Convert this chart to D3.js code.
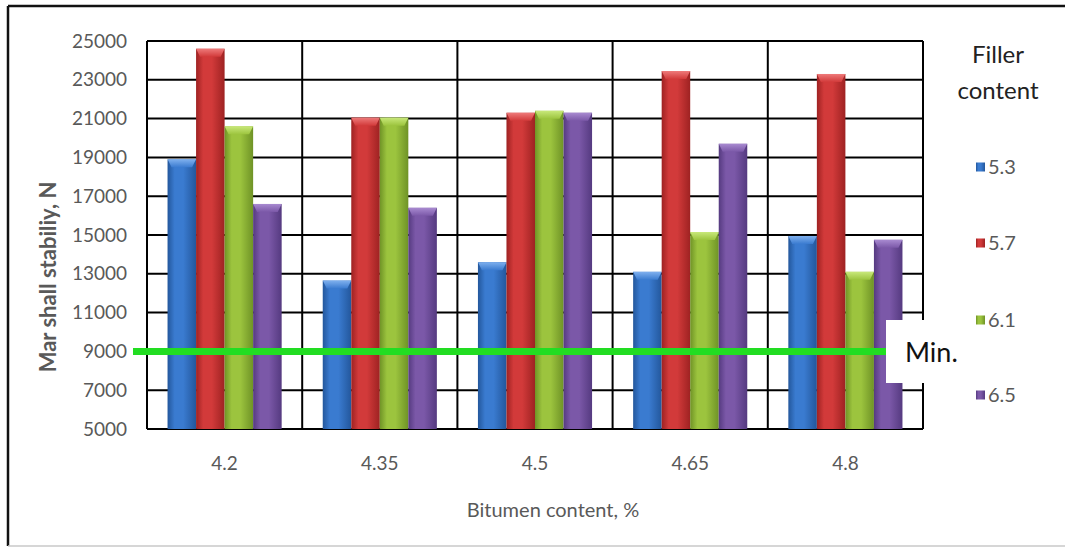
<!DOCTYPE html>
<html>
<head>
<meta charset="utf-8">
<script src="https://cdn.jsdelivr.net/npm/d3@7"></script>
<style>
  html, body { margin: 0; padding: 0; background: #fff; }
  svg { display: block; }
  text { font-family: Lato, "Open Sans", sans-serif; }
</style>
</head>
<body>
<svg id="chart" width="1065" height="547"></svg>
<script>
// Bitumen content categories (x axis)
const categories = ["4.2", "4.35", "4.5", "4.65", "4.8"];
// Filler content series
const seriesNames = ["5.3", "5.7", "6.1", "6.5"];
// Marshall stability (N) per series, one value per bitumen content
const filler53 = [18900, 12650, 13600, 13100, 14950];
const filler57 = [24600, 21050, 21300, 23450, 23300];
const filler61 = [20600, 21050, 21400, 15150, 13100];
const filler65 = [16600, 16400, 21300, 19700, 14750];
const seriesValues = [filler53, filler57, filler61, filler65];
// Axis ticks and the minimum requirement
const yTicks = [5000, 7000, 9000, 11000, 13000, 15000, 17000, 19000, 21000, 23000, 25000];
const minStability = 9000;

const colors = ["#3a7bd0", "#d23a3a", "#9cc43e", "#7b58a8"];
const darkColors = ["#23579c", "#9e2222", "#6f9326", "#553a80"];
const lightColors = ["#7fb0ee", "#ee7a7a", "#c8e87a", "#a88ad0"];

const svg = d3.select("#chart");
const W = 1065, H = 547;

// Outer frame
svg.append("line").attr("x1", 8).attr("x2", W).attr("y1", 6).attr("y2", 6)
  .attr("stroke", "#111").attr("stroke-width", 2.5);
svg.append("line").attr("x1", 8).attr("x2", 8).attr("y1", 6).attr("y2", 546)
  .attr("stroke", "#111").attr("stroke-width", 2.5);
svg.append("line").attr("x1", 8).attr("x2", W).attr("y1", 546).attr("y2", 546)
  .attr("stroke", "#c8c8c8").attr("stroke-width", 1.5);

const plot = { left: 147, right: 923, top: 41, bottom: 429 };

const x = d3.scaleBand().domain(categories).range([plot.left, plot.right]).padding(0);
const xs = d3.scaleBand().domain(seriesNames).range([0, x.bandwidth()])
  .paddingInner(0).paddingOuter(0.72);
const y = d3.scaleLinear().domain([5000, 25000]).range([plot.bottom, plot.top]);

// Gradients for the bevelled bar look
const defs = svg.append("defs");
seriesNames.forEach((s, i) => {
  const g = defs.append("linearGradient").attr("id", "bar" + i)
    .attr("x1", "0%").attr("x2", "100%").attr("y1", "0%").attr("y2", "0%");
  g.append("stop").attr("offset", "0%").attr("stop-color", darkColors[i]);
  g.append("stop").attr("offset", "25%").attr("stop-color", colors[i]);
  g.append("stop").attr("offset", "55%").attr("stop-color", colors[i]);
  g.append("stop").attr("offset", "100%").attr("stop-color", darkColors[i]);
  const c = defs.append("linearGradient").attr("id", "cap" + i)
    .attr("x1", "0%").attr("x2", "0%").attr("y1", "0%").attr("y2", "100%");
  c.append("stop").attr("offset", "0%").attr("stop-color", lightColors[i]);
  c.append("stop").attr("offset", "100%").attr("stop-color", colors[i]);
});

// Grid: horizontal lines at ticks
const grid = svg.append("g");
grid.selectAll("line.h").data(yTicks).join("line")
  .attr("x1", plot.left).attr("x2", plot.right)
  .attr("y1", d => y(d)).attr("y2", d => y(d))
  .attr("stroke", "#000").attr("stroke-width", 2);
// Vertical lines at category boundaries
const bounds = categories.map(c => x(c)).concat([plot.right]);
grid.selectAll("line.v").data(bounds).join("line")
  .attr("x1", d => d).attr("x2", d => d)
  .attr("y1", plot.top).attr("y2", plot.bottom)
  .attr("stroke", "#000").attr("stroke-width", 2);

// Bars
const rows = [];
categories.forEach((c, ci) => {
  seriesNames.forEach((s, si) => rows.push({ c, s, si, v: seriesValues[si][ci] }));
});
const bars = svg.append("g").selectAll("g").data(rows).join("g");
bars.append("rect")
  .attr("x", d => x(d.c) + xs(d.s))
  .attr("y", d => y(d.v))
  .attr("width", xs.bandwidth())
  .attr("height", d => y(5000) - y(d.v))
  .attr("fill", d => "url(#bar" + d.si + ")");
bars.append("path")
  .attr("d", d => {
    const x0 = x(d.c) + xs(d.s), x1 = x0 + xs.bandwidth(), t = y(d.v);
    return `M${x0},${t}L${x1},${t}L${x1 - 4},${t + 8}L${x0 + 4},${t + 8}Z`;
  })
  .attr("fill", d => "url(#cap" + d.si + ")");

// Minimum requirement line
svg.append("line")
  .attr("x1", 133).attr("x2", 886)
  .attr("y1", y(minStability)).attr("y2", y(minStability))
  .attr("stroke", "#22dd22").attr("stroke-width", 7);
svg.append("rect").attr("x", 886).attr("y", 320).attr("width", 80).attr("height", 63)
  .attr("fill", "#fff");
svg.append("text").attr("x", 905).attr("y", y(minStability) + 11)
  .attr("font-size", 27).attr("fill", "#111").text("Min.");

// Y axis tick labels
svg.append("g").selectAll("text").data(yTicks).join("text")
  .attr("x", 127).attr("y", d => y(d)).attr("dy", "0.35em")
  .attr("text-anchor", "end").attr("font-size", 19).attr("fill", "#595959")
  .text(d => d);

// X axis tick labels
svg.append("g").selectAll("text").data(categories).join("text")
  .attr("x", d => x(d) + x.bandwidth() / 2).attr("y", 463).attr("dy", "0.35em")
  .attr("text-anchor", "middle").attr("font-size", 19).attr("fill", "#595959")
  .text(d => d);

// Axis titles
svg.append("text").attr("x", 553).attr("y", 510).attr("dy", "0.35em")
  .attr("text-anchor", "middle").attr("font-size", 20).attr("fill", "#595959")
  .text("Bitumen content, %");
svg.append("text").attr("transform", "translate(48,277) rotate(-90)")
  .attr("dy", "0.35em").attr("text-anchor", "middle")
  .attr("font-size", 22).attr("font-weight", "bold").attr("fill", "#595959")
  .text("Mar shall stabiliy, N");

// Legend
svg.append("text").attr("x", 998).attr("y", 55).attr("dy", "0.35em")
  .attr("text-anchor", "middle").attr("font-size", 24).attr("fill", "#222").text("Filler");
svg.append("text").attr("x", 998).attr("y", 91).attr("dy", "0.35em")
  .attr("text-anchor", "middle").attr("font-size", 24).attr("fill", "#222").text("content");
const legendY = [167, 243, 320, 395];
const leg = svg.append("g").selectAll("g").data(seriesNames).join("g")
  .attr("transform", (d, i) => `translate(976,${legendY[i]})`);
leg.append("rect").attr("x", 0).attr("y", -4.5).attr("width", 9).attr("height", 9)
  .attr("fill", (d, i) => "url(#bar" + i + ")");
leg.append("text").attr("x", 12).attr("dy", "0.35em").attr("font-size", 20)
  .attr("fill", "#595959").text(d => d);
</script>
</body>
</html>
